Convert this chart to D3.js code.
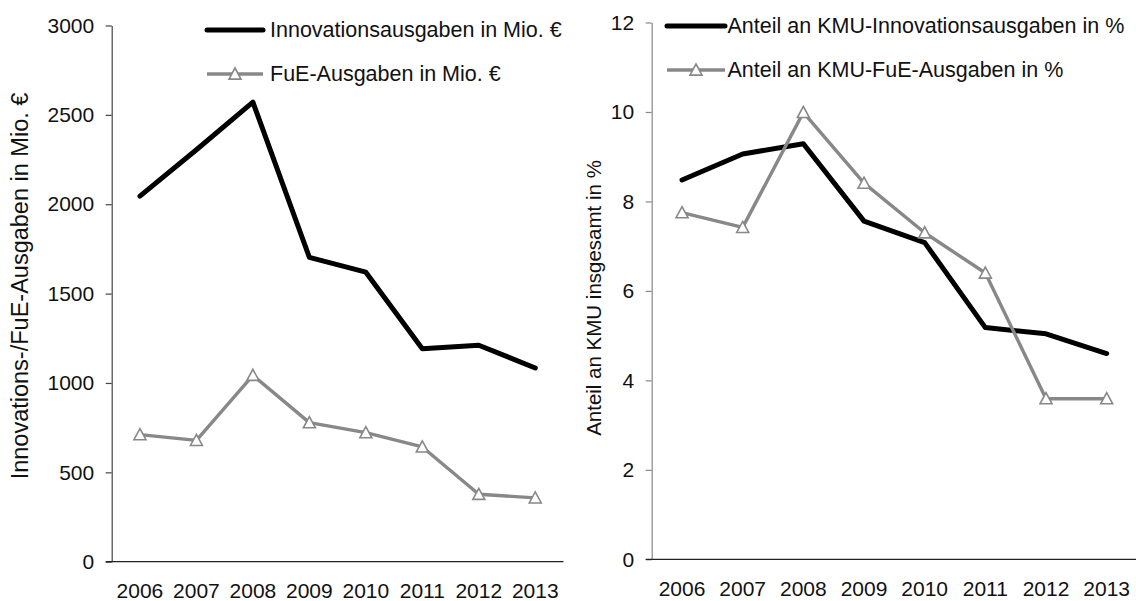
<!DOCTYPE html>
<html>
<head>
<meta charset="utf-8">
<script src="https://cdn.jsdelivr.net/npm/d3@7"></script>
<style>
  html, body { margin: 0; padding: 0; background: #fff; }
  svg { display: block; }
  text { font-family: "Liberation Sans", Arial, sans-serif; fill: #111; }
</style>
</head>
<body>
<svg id="chart" width="1136" height="601"></svg>
<script>
// ---- data ----
const years = ["2006", "2007", "2008", "2009", "2010", "2011", "2012", "2013"];
const innovMio = [2045, 2305, 2571, 1703, 1620, 1192, 1211, 1084];
const fueMio   = [711, 679, 1043, 778, 722, 642, 377, 357];
const innovPct = [8.48, 9.06, 9.29, 7.56, 7.08, 5.18, 5.04, 4.60];
const fuePct   = [7.75, 7.42, 9.99, 8.41, 7.30, 6.40, 3.59, 3.59];
const leftTicks  = [0, 500, 1000, 1500, 2000, 2500, 3000];
const rightTicks = [0, 2, 4, 6, 8, 10, 12];
const leftTitle  = "Innovations-/FuE-Ausgaben in Mio. €";
const rightTitle = "Anteil an KMU insgesamt in %";
const leftLegend  = ["Innovationsausgaben in Mio. €", "FuE-Ausgaben in Mio. €"];
const rightLegend = ["Anteil an KMU-Innovationsausgaben in %", "Anteil an KMU-FuE-Ausgaben in %"];

// ---- styles ----
const BLACK = "#000";
const GRAY = "#888";
const FONT = 21;

const svg = d3.select("#chart");

function triangle(g, x, y) {
  const s = 6;
  g.append("path")
    .attr("d", `M${x},${y - s} L${x + s},${y + s * 0.85} L${x - s},${y + s * 0.85} Z`)
    .attr("fill", "#fff")
    .attr("stroke", GRAY)
    .attr("stroke-width", 1.6);
}

function panel(cfg) {
  const g = svg.append("g");
  const x = d3.scaleBand().domain(years).range([cfg.x0, cfg.x1]);
  const y = d3.scaleLinear().domain([cfg.ticks[0], cfg.ticks[cfg.ticks.length - 1]]).range([cfg.yBottom, cfg.yTop]);

  // y axis
  const ya = g.append("g").attr("transform", `translate(${cfg.x0},0)`)
    .call(d3.axisLeft(y).tickValues(cfg.ticks).tickFormat(d3.format("d")).tickSize(6).tickSizeOuter(0).tickPadding(11.5));
  ya.select(".domain").attr("stroke", cfg.yAxisColor).attr("stroke-width", 1.2);
  ya.selectAll(".tick line").attr("stroke", cfg.yAxisColor).attr("stroke-width", 1.2);
  ya.selectAll(".tick text").attr("font-size", FONT).attr("font-family", "Liberation Sans, Arial, sans-serif").attr("fill", "#111");

  // x axis
  const xa = g.append("g").attr("transform", `translate(0,${cfg.yBottom})`)
    .call(d3.axisBottom(x).tickSize(0).tickSizeOuter(0).tickPadding(21.5));
  xa.select(".domain").attr("d", `M${cfg.x0 - 6},0H${cfg.x1}`).attr("stroke", "#222").attr("stroke-width", 1.2);
  xa.selectAll(".tick text").attr("font-size", FONT).attr("font-family", "Liberation Sans, Arial, sans-serif").attr("fill", "#111");

  // title
  g.append("text")
    .attr("transform", `translate(${cfg.titleX},${cfg.titleY}) rotate(-90)`)
    .attr("text-anchor", "middle")
    .attr("dominant-baseline", "central")
    .attr("font-size", cfg.titleSize)
    .text(cfg.title);

  const cx = d => x(d) + x.bandwidth() / 2;
  const line = d3.line().x((d, i) => cx(years[i])).y(d => y(d));

  g.append("path").datum(cfg.s1)
    .attr("d", line).attr("fill", "none").attr("stroke", BLACK)
    .attr("stroke-width", 5).attr("stroke-linejoin", "round").attr("stroke-linecap", "round");
  g.append("path").datum(cfg.s2)
    .attr("d", line).attr("fill", "none").attr("stroke", GRAY)
    .attr("stroke-width", 3.4).attr("stroke-linejoin", "round");
  cfg.s2.forEach((v, i) => triangle(g, cx(years[i]), y(v)));

  // legend
  const lg = g.append("g");
  cfg.legend.forEach((lab, i) => {
    const ly = cfg.legY[i];
    lg.append("line").attr("x1", cfg.legX0).attr("x2", cfg.legX1).attr("y1", ly).attr("y2", ly)
      .attr("stroke", i === 0 ? BLACK : GRAY).attr("stroke-width", i === 0 ? 5 : 3.4)
      .attr("stroke-linecap", i === 0 ? "round" : "butt");
    if (i === 1) triangle(lg, (cfg.legX0 + cfg.legX1) / 2, ly);
    lg.append("text").attr("x", cfg.legX1 + cfg.legGap).attr("y", ly)
      .attr("dominant-baseline", "central").attr("font-size", 21.5).text(lab);
  });
}

panel({
  x0: 111.7, x1: 563.5, yBottom: 561.7, yTop: 25.5,
  ticks: leftTicks, s1: innovMio, s2: fueMio,
  yAxisColor: "#444",
  title: leftTitle, titleX: 20, titleY: 286, titleSize: 23.5,
  legend: leftLegend, legX0: 207, legX1: 263, legGap: 7, legY: [30, 74]
});

panel({
  x0: 651.7, x1: 1137, yBottom: 559.3, yTop: 22.5,
  ticks: rightTicks, s1: innovPct, s2: fuePct,
  yAxisColor: "#888",
  title: rightTitle, titleX: 593, titleY: 298, titleSize: 20.5,
  legend: rightLegend, legX0: 667, legX1: 725, legGap: 2.5, legY: [26, 70]
});
</script>
</body>
</html>
